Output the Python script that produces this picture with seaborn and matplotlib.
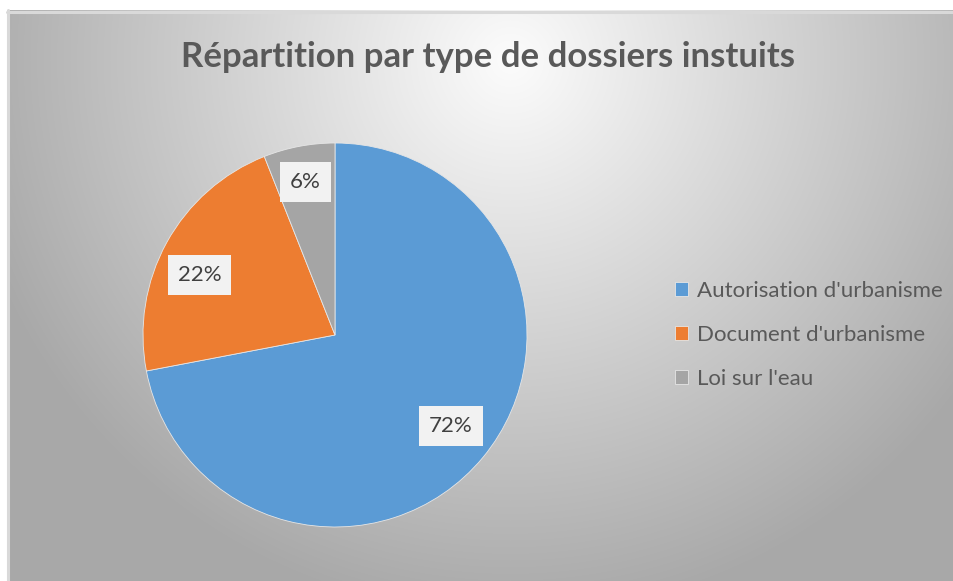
import numpy as np
import matplotlib
matplotlib.use("Agg")
import matplotlib.pyplot as plt
from matplotlib.transforms import offset_copy
import seaborn as sns

categories = ["Autorisation d'urbanisme", "Document d'urbanisme", "Loi sur l'eau"]
values = [72, 22, 6]
colors = ["#5B9BD5", "#ED7D31", "#A5A5A5"]
title = "Répartition par type de dossiers instuits"

sns.set_theme(style="white")
plt.rcParams["font.family"] = ["Lato", "DejaVu Sans"]

W, H = 954, 581
fig = plt.figure(figsize=(W / 100, H / 100), dpi=100)
fig.patch.set_facecolor("white")

# background radial gradient (chart area)
left_px, top_px = 7, 10
bg = fig.add_axes([left_px / W, 0, 1 - left_px / W, (H - top_px) / H])
yy, xx = np.mgrid[top_px:H, left_px:W]
d = np.hypot(xx - 510, (yy - 60) * 1.0)
g = np.clip(252 - 0.15 * d, 168, 255) / 255.0
img = np.dstack([g, g, g])
bg.imshow(img, aspect="auto", interpolation="bilinear")
bg.set_axis_off()
fig.add_artist(plt.Line2D([left_px / W, 1], [(H - top_px - 1.5) / H] * 2, color="#d9d9d9", lw=2.2))
fig.add_artist(plt.Line2D([(left_px + 1.5) / W] * 2, [0, (H - top_px) / H], color="#d9d9d9", lw=2.2))

# pie
cx, cy, r = 335, 335, 192
ax = fig.add_axes([(cx - r) / W, (H - cy - r) / H, 2 * r / W, 2 * r / H])
wedges, texts, autotexts = ax.pie(
    values, colors=colors, startangle=90, counterclock=False,
    autopct=lambda p: f"{p:.0f}%", pctdistance=0.77,
    wedgeprops=dict(edgecolor="#e6e6e6", linewidth=0.6),
    textprops=dict(fontsize=16, color="#404040"),
)
ax.set_xlim(-1, 1)
ax.set_ylim(-1, 1)
ax.set_aspect("equal")
ax.set_axis_off()
# small "best fit" nudges (pixels, up = positive) like the original label placement
nudges = [(2, 3), (-6, -11), (-2, 8)]
for t, (dx, dy) in zip(autotexts, nudges):
    t.set_transform(offset_copy(t.get_transform(), fig=fig, x=dx * 0.72, y=dy * 0.72, units="points"))
    t.set_bbox(dict(facecolor="#f2f2f2", edgecolor="none", boxstyle="square,pad=0.45"))

fig.text(488 / W, 1 - 57 / H, title, ha="center", va="center", fontsize=25,
         fontweight="bold", color="#595959")

leg = fig.legend(wedges, categories, loc="center left",
                 bbox_to_anchor=(675 / W, 1 - 335 / H), frameon=False,
                 fontsize=16, labelcolor="#595959", handlelength=0.6,
                 handleheight=0.6, handletextpad=0.4, labelspacing=1.08,
                 borderaxespad=0, borderpad=0)

fig.savefig("out.png", dpi=100)
